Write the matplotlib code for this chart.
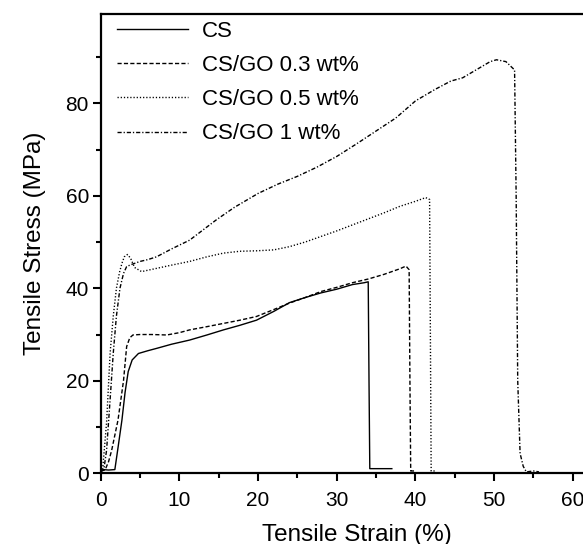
import matplotlib
matplotlib.use("Agg")
import matplotlib.pyplot as plt
from matplotlib.ticker import MultipleLocator

plt.rcParams['font.family'] = ['Liberation Sans', 'DejaVu Sans']

# --- data (strain %, stress MPa) ---
cs_x = [0, 0.3, 1.0, 1.8, 2.2, 2.7, 3.1, 3.5, 4.0, 4.8, 6.0, 7.1, 9.0, 11.3, 13.5, 15.6,
        17.7, 19.8, 22.0, 24.0, 26.0, 28.0, 30.0, 32.0, 33.5, 34.0, 34.1, 34.2, 35.0, 36.0, 37.0]
cs_y = [0.5, 0.8, 0.7, 0.8, 5.5, 11.5, 17.5, 22.0, 24.5, 25.9, 26.5, 27.0, 27.9, 28.8, 29.9, 31.0,
        32.0, 33.1, 35.0, 36.9, 38.0, 39.0, 39.8, 40.8, 41.2, 41.4, 20.0, 1.0, 1.0, 1.0, 1.0]

go03_x = [0, 0.55, 1.0, 1.4, 2.2, 2.9, 3.3, 3.7, 4.1, 5.0, 6.5, 8.4, 10.0, 11.3, 13.5, 15.6,
          17.7, 19.8, 22.0, 24.0, 26.0, 28.0, 30.0, 32.0, 34.0, 36.0, 38.0, 38.8, 39.2, 39.3, 39.4, 40.0]
go03_y = [0.5, 0.7, 2.5, 5.0, 11.5, 20.0, 27.4, 29.3, 29.9, 30.0, 30.0, 29.9, 30.4, 31.0, 31.7, 32.4,
          33.1, 33.9, 35.4, 36.8, 38.0, 39.3, 40.2, 41.2, 42.0, 43.0, 44.2, 44.8, 44.0, 20.0, 0.5, 0.5]

go05_x = [0, 0.25, 0.75, 1.2, 1.6, 2.0, 2.4, 2.7, 3.0, 3.4, 3.8, 4.3, 5.2, 6.0, 7.1, 9.0, 11.3,
          13.5, 15.6, 17.7, 19.8, 22.0, 24.0, 26.0, 28.0, 30.0, 32.0, 34.0, 36.0, 38.0, 40.0,
          41.3, 41.8, 41.9, 42.0, 42.6]
go05_y = [0.3, 0.8, 11, 26, 34, 40, 43.5, 45.4, 46.8, 47.3, 46.5, 44.5, 43.6, 43.9, 44.3, 45.0, 45.8,
          46.8, 47.6, 48.0, 48.1, 48.3, 49.0, 50.0, 51.2, 52.4, 53.7, 55.0, 56.3, 57.7, 58.8,
          59.6, 59.2, 30, 0.5, 0.5]

go1_x = [0, 0.4, 0.75, 1.2, 1.6, 2.0, 2.45, 2.9, 3.3, 4.0, 5.0, 6.0, 7.1, 9.0, 11.3, 13.0, 14.7,
         17.0, 20.0, 22.5, 25.0, 27.5, 30.0, 32.5, 35.0, 37.5, 40.0, 42.5, 44.5, 46.0, 48.0, 49.5,
         50.3, 51.5, 52.6, 52.8, 53.0, 53.3, 53.7, 54.1, 55.0, 55.7]
go1_y = [0.3, 0.8, 5, 16, 26, 34, 40, 43.2, 44.7, 45.2, 45.8, 46.2, 46.8, 48.5, 50.4, 52.6, 54.8,
         57.5, 60.5, 62.5, 64.2, 66.2, 68.5, 71.2, 74.0, 76.8, 80.5, 83.0, 84.8, 85.5, 87.5, 89.0,
         89.4, 89.0, 87.2, 60, 20, 4.3, 1.5, 0.3, 0.5, 0.3]

labels = ['CS', 'CS/GO 0.3 wt%', 'CS/GO 0.5 wt%', 'CS/GO 1 wt%']

fig = plt.figure(figsize=(5.83, 5.44), dpi=100)
# right edge of the axes runs past the picture, as in the reference
ax = fig.add_axes([0.1727, 0.13, 1.05 - 0.1727, 0.8443])

lw = 1.0
ax.plot(cs_x, cs_y, color='black', lw=lw, label=labels[0])
ax.plot(go03_x, go03_y, color='black', lw=lw, dashes=(3, 1.6), label=labels[1])
ax.plot(go05_x, go05_y, color='black', lw=lw, dashes=(0.9, 1.4), label=labels[2])
ax.plot(go1_x, go1_y, color='black', lw=lw, dashes=(3, 1.4, 0.9, 1.4), label=labels[3])

ax.set_xlim(0, 65)
ax.set_ylim(0, 99.3)
ax.xaxis.set_major_locator(MultipleLocator(10))
ax.xaxis.set_minor_locator(MultipleLocator(5))
ax.yaxis.set_major_locator(MultipleLocator(20))
ax.yaxis.set_minor_locator(MultipleLocator(10))
ax.tick_params(which='major', direction='out', length=5.5, width=1.5, labelsize=15)
ax.tick_params(axis='x', which='major', pad=7)
ax.tick_params(axis='y', which='major', pad=3)
ax.tick_params(which='minor', direction='out', length=3.5, width=1.5)
ax.tick_params(top=False, right=False)
for side in ['left', 'bottom', 'top']:
    ax.spines[side].set_linewidth(1.6)
ax.spines['right'].set_visible(False)

ax.set_xlabel('Tensile Strain (%)', fontsize=17.5, labelpad=10)
ax.set_ylabel('Tensile Stress (MPa)', fontsize=17.5, labelpad=14)

ax.legend(loc='upper left', bbox_to_anchor=(0.015, 1.004), frameon=False, fontsize=16,
          handlelength=3.2, handletextpad=0.6, labelspacing=0.59, borderaxespad=0)

fig.savefig('out.png', dpi=100)
